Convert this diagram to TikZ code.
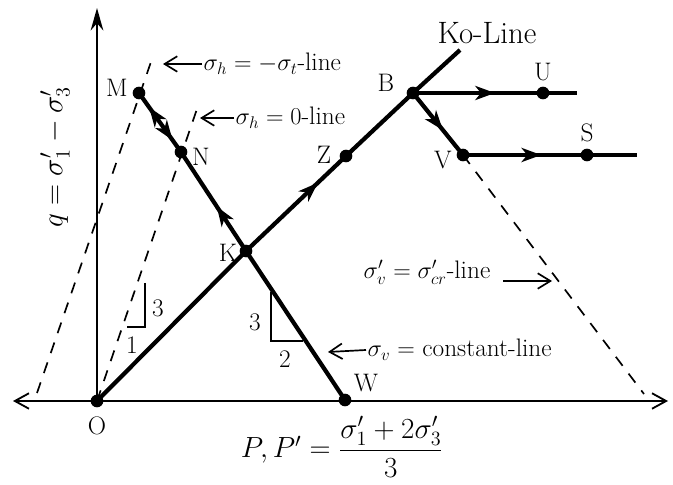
\documentclass[tikz,border=0pt]{standalone}
\usepackage{amsmath}
\usetikzlibrary{arrows.meta, decorations.markings}

\begin{document}
\begin{tikzpicture}[x=0.025cm, y=-0.025cm,
    font=\fontsize{18}{21}\selectfont,
    pt/.style={circle, fill, inner sep=0pt, minimum size=9pt},
    lbl/.style={inner sep=1pt},
    ax/.style={line width=1.3pt},
    pth/.style={line width=3pt},
    dsh/.style={line width=1.2pt, dash pattern=on 8pt off 7pt},
    ann/.style={line width=1.2pt, -{Straight Barb[length=9pt, width=11pt]}},
    mid/.style={postaction={decorate}, decoration={markings,
        mark=at position #1 with {\arrow{Stealth[length=14pt, width=10pt, inset=4pt]}}}},
    big/.style={font=\fontsize{21}{25}\selectfont}
  ]
  \useasboundingbox (0,0) rectangle (673,485);

  % state points
  \node[pt] (O) at (97,401) {};
  \node[pt] (M) at (139,93) {};
  \node[pt] (N) at (181,152) {};
  \node[pt] (K) at (246,251) {};
  \node[pt] (W) at (345,400) {};
  \node[pt] (Z) at (346,156) {};
  \node[pt] (B) at (413,93) {};
  \node[pt] (U) at (543,93) {};
  \node[pt] (V) at (463,155) {};
  \node[pt] (S) at (587,155) {};
  \coordinate (xl) at (13,401);
  \coordinate (xr) at (668,401);
  \coordinate (yt) at (97,8);
  \coordinate (ko) at (460,50);
  \coordinate (ue) at (577,93);
  \coordinate (se) at (637,155);
  \coordinate (d1a) at (37,393);
  \coordinate (d1b) at (153,56);
  \coordinate (d2b) at (198,106);
  \coordinate (d3b) at (644,394);

  % axes
  \draw[ax, {Straight Barb[length=10pt, width=11pt]}-{Straight Barb[length=10pt, width=11pt]}] (xl) -- (xr);
  \draw[ax, -{Stealth[length=16pt, width=9pt]}] (O.center) -- (yt);

  % dashed lines
  \draw[dsh] (d1a) -- (d1b);
  \draw[dsh] (O.center) -- (d2b);
  \draw[dsh] (V.center) -- (d3b);

  % stress paths
  \draw[pth] (O.center) -- (K.center);
  \draw[pth, mid=0.72] (K.center) -- (Z.center);
  \draw[pth] (Z.center) -- (B.center) -- (ko);
  \draw[pth] (W.center) -- (K.center);
  \draw[pth, mid=0.45] (K.center) -- (N.center);
  \draw[pth, postaction={decorate}, decoration={markings,
      mark=at position 0.24 with {\arrowreversed{Stealth[length=14pt, width=10pt, inset=4pt]}},
      mark=at position 0.8 with {\arrow{Stealth[length=14pt, width=10pt, inset=4pt]}}}]
    (M.center) -- (N.center);
  \draw[pth, mid=0.6] (B.center) -- (V.center);
  \draw[pth, mid=0.5] (B.center) -- (ue);
  \draw[pth, mid=0.45] (V.center) -- (se);

  % slope triangles
  \draw[line width=0.9pt] (145,283) -- (145,327) -- (127,327);
  \node[lbl] (s3a) at (158,308) {3};
  \node[lbl] (s1) at (132,345) {1};
  \draw[line width=0.9pt] (271,292) -- (271,341) -- (303,341);
  \node[lbl] (s3b) at (255,322) {3};
  \node[lbl] (s2) at (285,359) {2};

  % point labels
  \node[lbl] (Ml) at (117,88) {M};
  \node[lbl] (Nl) at (201,157) {N};
  \node[lbl] (Zl) at (324,155) {Z};
  \node[lbl] (Kl) at (228,253) {K};
  \node[lbl] (Bl) at (386,83) {B};
  \node[lbl] (Ul) at (543,72) {U};
  \node[lbl] (Vl) at (443,160) {V};
  \node[lbl] (Sl) at (587,133) {S};
  \node[lbl] (Wl) at (366,383) {W};
  \node[lbl] (Ol) at (97,426) {O};
  \node[lbl, font=\fontsize{22}{26}\selectfont] (kol) at (487,33) {Ko-Line};

  % line annotations
  \coordinate (tht) at (163,64);
  \node[lbl, anchor=west] (th) at (202,64) {$\sigma_h = -\sigma_t$-line};
  \draw[ann] (th.west) -- (tht);
  \coordinate (h0t) at (200,118);
  \node[lbl, anchor=west] (h0) at (234,118) {$\sigma_h = 0$-line};
  \draw[ann] (h0.west) -- (h0t);
  \node[lbl] (cr) at (427,272) {$\sigma_v' = \sigma_{cr}'$-line};
  \coordinate (cra) at (503,281);
  \coordinate (crb) at (552,281);
  \draw[ann] (cra) -- (crb);
  \coordinate (vct) at (328,352);
  \node[lbl, anchor=west] (vc) at (366,350) {$\sigma_v =$ constant-line};
  \draw[ann] (vc.west) -- (vct);

  % axis labels
  \node[font=\fontsize{20}{24}\selectfont, rotate=90] (ql) at (55,157) {$q = \sigma_1' - \sigma_3'$};
  \node[big] (pl) at (342,447) {$P, P' = \dfrac{\sigma_1' + 2\sigma_3'}{3}$};
\end{tikzpicture}
\end{document}
